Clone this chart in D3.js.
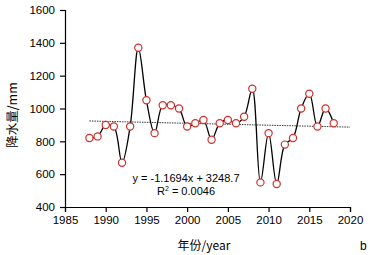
<!DOCTYPE html>
<html>
<head>
<meta charset="utf-8">
<script src="https://cdn.jsdelivr.net/npm/d3@7"></script>
<style>
  body { margin: 0; background: #fff; }
  text { font-family: "Liberation Sans", Arial, sans-serif; }
</style>
</head>
<body>
<div class="chart"></div>
<script>
// data
const years = [1988, 1989, 1990, 1991, 1992, 1993, 1994, 1995, 1996, 1997, 1998, 1999, 2000,
    2001, 2002, 2003, 2004, 2005, 2006, 2007, 2008, 2009, 2010, 2011, 2012, 2013, 2014,
    2015, 2016, 2017, 2018];
const rainfall = [820, 830, 900, 890, 670, 890, 1370, 1050, 850, 1020, 1020, 1000, 890,
    910, 930, 810, 910, 930, 910, 950, 1120, 550, 850, 540, 780, 820, 1000,
    1090, 890, 1000, 910];
const xTicks = [1985, 1990, 1995, 2000, 2005, 2010, 2015, 2020];
const yTicks = [400, 600, 800, 1000, 1200, 1400, 1600];
const trend = { slope: -1.1694, intercept: 3248.7, r2: "0.0046", from: 1988, to: 2020 };

const width = 370, height = 255;
const margin = { top: 10, right: 20, bottom: 48, left: 65 };

const data = years.map((y, i) => ({ year: y, value: rainfall[i] }));

const x = d3.scaleLinear().domain([1985, 2020]).range([margin.left, width - margin.right]);
const yScale = d3.scaleLinear().domain([400, 1600]).range([height - margin.bottom, margin.top]);

const svg = d3.select(".chart").append("svg")
    .attr("width", width)
    .attr("height", height);

/* Axes */
const xAxis = svg.append("g")
    .attr("transform", `translate(0,${height - margin.bottom})`)
    .call(d3.axisBottom(x).tickValues(xTicks).tickFormat(d3.format("d")).tickSizeOuter(0).tickSize(5).tickPadding(4));
const yAxis = svg.append("g")
    .attr("transform", `translate(${margin.left},0)`)
    .call(d3.axisLeft(yScale).tickValues(yTicks).tickFormat(d3.format("d")).tickSizeOuter(0).tickSize(5).tickPadding(5));
[xAxis, yAxis].forEach(a => {
    a.selectAll("path, line").attr("stroke", "#000").attr("stroke-width", 1.2);
    a.selectAll("text").attr("fill", "#000").style("font-size", "11.5px")
        .style("font-family", "'Liberation Sans', Arial, sans-serif");
});

// trend line
const tLine = d3.line().x(d => x(d)).y(d => yScale(trend.slope * d + trend.intercept));
svg.append("path")
    .datum([trend.from, trend.to])
    .attr("fill", "none")
    .attr("stroke", "#333")
    .attr("stroke-width", 1)
    .attr("stroke-dasharray", "1.5,1")
    .attr("d", tLine);

// smoothed series
const line = d3.line()
    .x(d => x(d.year))
    .y(d => yScale(d.value))
    .curve(d3.curveCatmullRom.alpha(0.5));
svg.append("path")
    .datum(data)
    .attr("fill", "none")
    .attr("stroke", "#000")
    .attr("stroke-width", 1.3)
    .attr("d", line);

svg.selectAll("circle.pt")
    .data(data)
    .enter()
    .append("circle")
    .attr("class", "pt")
    .attr("cx", d => x(d.year))
    .attr("cy", d => yScale(d.value))
    .attr("r", 3.6)
    .attr("fill", "#fff")
    .attr("stroke", "#d0302c")
    .attr("stroke-width", 1.2);

// equation
svg.append("text")
    .attr("x", 186).attr("y", 182)
    .attr("text-anchor", "middle")
    .style("font-size", "11px")
    .text(`y = ${trend.slope}x + ${trend.intercept}`);
svg.append("text")
    .attr("x", 186).attr("y", 195)
    .attr("text-anchor", "middle")
    .style("font-size", "11px")
    .html(`R<tspan dy="-4" style="font-size:7px">2</tspan><tspan dy="4"> = ${trend.r2}</tspan>`);

// axis titles
svg.append("text")
    .attr("x", 204).attr("y", 250)
    .attr("text-anchor", "middle")
    .style("font-size", "12px")
    .style("font-family", "'Noto Sans CJK SC', 'Liberation Sans', sans-serif")
    .text("年份/year");
svg.append("text")
    .attr("transform", `translate(17,115) rotate(-90)`)
    .attr("text-anchor", "middle")
    .style("font-size", "12.5px")
    .style("font-family", "'Noto Sans CJK SC', 'Liberation Sans', sans-serif")
    .text("降水量/mm");
svg.append("text")
    .attr("x", 360).attr("y", 250)
    .style("font-size", "12px")
    .text("b");
</script>
</body>
</html>
